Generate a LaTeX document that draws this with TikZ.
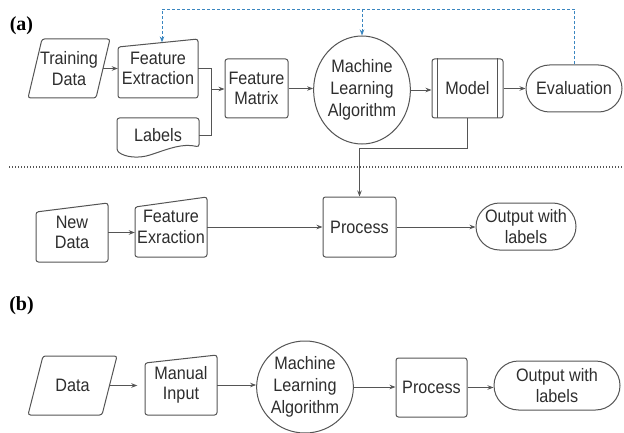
\documentclass[tikz,border=0pt]{standalone}
\usepackage{fontspec}
\setmainfont[FakeStretch=0.9]{Liberation Sans}
\newfontfamily\labfont{Liberation Serif}
\usetikzlibrary{shapes.geometric,arrows.meta,calc}
\definecolor{lncol}{HTML}{555555}
\definecolor{txcol}{HTML}{2E2E2E}
\definecolor{fbcol}{HTML}{3A86C0}
\begin{document}
\begin{tikzpicture}[x=1pt,y=-1pt,
  box/.style={draw=none,inner sep=0pt,align=center,text=txcol,font=\fontsize{18}{20.5}\selectfont},
  circbox/.style={box,ellipse,draw=lncol,line width=1pt,font=\fontsize{18}{22}\selectfont},
  rectbox/.style={box,draw=lncol,line width=1pt,rounded corners=2.5pt},
  termbox/.style={box,draw=lncol,line width=1pt},
  shp/.style={draw=lncol,line width=1pt,rounded corners=2.5pt},
  arr/.style={draw=lncol,line width=0.9pt,-{Stealth[length=6pt,width=4.5pt]}},
  conn/.style={draw=lncol,line width=0.9pt},
  fb/.style={draw=fbcol,line width=0.9pt,dash pattern=on 3pt off 2pt},
  fbarr/.style={fb,-{Stealth[length=6pt,width=4.5pt]}},
  tag/.style={inner sep=0pt,text=black,font=\labfont\bfseries\fontsize{20}{24}\selectfont}
]
\useasboundingbox (0,0) rectangle (624,433);
\fill[white] (0,0) rectangle (624,433);

% ---------------- (a) ----------------
\node[tag] (la) at (21.5,26) {(a)};

\node[box,minimum width=82,minimum height=59] (td) at (69,68.5) {Training\\Data};
\draw[shp,shift={(td.center)}] (-27,-29.5) -- (41,-29.5) -- (27,29.5) -- (-41,29.5) -- cycle;

\node[box,minimum width=80,minimum height=59] (fe) at (158,68.5) {Feature\\Extraction};
\draw[shp,shift={(fe.center)}] (-40,-21.5) -- (40,-29.5) -- (40,29.5) -- (-40,29.5) -- cycle;

\node[box,minimum width=82,minimum height=34] (lab) at (158,135) {Labels};
\draw[shp,shift={(lab.center)}] (-41,16) -- (-41,-17) -- (41,-17) -- (41,12)
  .. controls (25,8) and (10,14) .. (-5,19) .. controls (-20,24) and (-33,22) .. (-41,16) -- cycle;

\node[rectbox,minimum width=63,minimum height=59] (fm) at (256.5,88.5) {Feature\\Matrix};

\node[circbox,minimum width=92,minimum height=108] (ml) at (362,90) {Machine\\Learning\\Algorithm};

\node[rectbox,minimum width=71,minimum height=59] (model) at (467.5,88.5) {Model};
\draw[conn] ([xshift=6pt]model.north west) -- ([xshift=6pt]model.south west);
\draw[conn] ([xshift=-6pt]model.north east) -- ([xshift=-6pt]model.south east);

\node[termbox,rounded corners=23.5pt,minimum width=96,minimum height=47] (ev) at (574,88.5) {Evaluation};

\coordinate (j) at (211,89);
\draw[arr] ([xshift=-7pt]td.east) -- (fe.west);
\draw[conn] (fe.east) -| (j);
\draw[conn] (lab.east) -| (j);
\draw[arr] (j) -- (j -| fm.west);
\draw[arr] (fm.east) -- (fm.east -| ml.west);
\draw[arr] (ml.east) -- (ml.east -| model.west);
\draw[arr] (model.east) -- (ev.west);

% feedback (dashed blue)
\coordinate (fbtop) at (362,9);
\coordinate (fetop) at ($(fe.north)+(4,3.6)$);
\draw[fbarr] (ev.north) |- (fetop |- fbtop) -- (fetop);
\draw[fbarr] (ml.north |- fbtop) -- (ml.north);

% separator
\draw[lncol,line width=1.2pt,dash pattern=on 1.2pt off 1.8pt] (9,167) -- (624,167);

% second row of (a)
\node[box,minimum width=72,minimum height=59] (nd) at (72,232.5) {New\\Data};
\draw[shp,shift={(nd.center)}] (-36,-20.5) -- (36,-29.5) -- (36,29.5) -- (-36,29.5) -- cycle;

\node[box,minimum width=72,minimum height=60] (fe2) at (171,227) {Feature\\Exraction};
\draw[shp,shift={(fe2.center)}] (-36,-20) -- (36,-30) -- (36,30) -- (-36,30) -- cycle;

\node[rectbox,minimum width=73,minimum height=60] (proc1) at (359.5,227) {Process};
\node[termbox,rounded corners=23.5pt,minimum width=100,minimum height=47] (out1) at (526,226.5) {Output with\\labels};

\draw[arr] (nd.east) -- (nd.east -| fe2.west);
\draw[arr] (fe2.east) -- (fe2.east -| proc1.west);
\draw[arr] (proc1.east) -- (proc1.east -| out1.west);
\draw[arr] (model.south) -- ++(0,30) -| (proc1.north);

% ---------------- (b) ----------------
\node[tag] (lb) at (21.5,306) {(b)};

\node[box,minimum width=89,minimum height=59] (data) at (72.5,385.5) {Data};
\draw[shp,shift={(data.center)}] (-29.5,-29.5) -- (44.5,-29.5) -- (29.5,29.5) -- (-44.5,29.5) -- cycle;

\node[box,minimum width=72,minimum height=60] (mi) at (181,385) {Manual\\Input};
\draw[shp,shift={(mi.center)}] (-36,-22) -- (36,-30) -- (36,30) -- (-36,30) -- cycle;

\node[circbox,minimum width=86,minimum height=92] (ml2) at (305,387) {Machine\\Learning\\Algorithm};
\node[rectbox,minimum width=71,minimum height=59] (proc2) at (431.5,387.5) {Process};
\node[termbox,rounded corners=24.5pt,minimum width=126,minimum height=49] (out2) at (557,385.5) {Output with\\labels};

\draw[arr] ([xshift=-7.5pt]data.east) -- ([xshift=-7.5pt]data.east -| mi.west);
\draw[arr] (mi.east) -- (mi.east -| ml2.west);
\draw[arr] (ml2.east) -- (ml2.east -| proc2.west);
\draw[arr] (proc2.east) -- (proc2.east -| out2.west);
\end{tikzpicture}
\end{document}
